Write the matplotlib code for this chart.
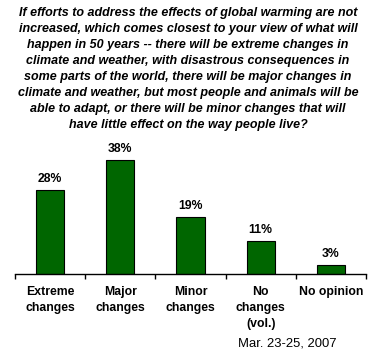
import matplotlib.pyplot as plt

categories = ["Extreme\nchanges", "Major\nchanges", "Minor\nchanges", "No\nchanges\n(vol.)", "No opinion"]
values = [28, 38, 19, 11, 3]
value_labels = ["28%", "38%", "19%", "11%", "3%"]

title = ("If efforts to address the effects of global warming are not\n"
         "increased, which comes closest to your view of what will\n"
         "happen in 50 years -- there will be extreme changes in\n"
         "climate and weather, with disastrous consequences in\n"
         "some parts of the world, there will be major changes in\n"
         "climate and weather, but most people and animals will be\n"
         "able to adapt, or there will be minor changes that will\n"
         "have little effect on the way people live?")
date_note = "Mar. 23-25, 2007"

plt.rcParams['font.family'] = ['Liberation Sans', 'DejaVu Sans']

W, H = 381, 359
fig = plt.figure(figsize=(W / 100, H / 100), dpi=100)
ax = fig.add_axes([15 / W, (H - 274) / H, 351 / W, 135 / H])

x = list(range(len(values)))
ax.bar(x, values, width=0.4, color="#006600", edgecolor="black", linewidth=0.8, zorder=2)
for xi, v, lab in zip(x, values, value_labels):
    ax.text(xi, v + 1.6, lab, ha="center", va="bottom", fontsize=8.8, fontweight="bold")

ax.set_xlim(-0.5, len(values) - 0.5)
ax.set_ylim(0, 45)
for s in ["top", "left", "right"]:
    ax.spines[s].set_visible(False)
ax.spines["bottom"].set_linewidth(1)
ax.set_yticks([])
ax.set_xticks([i - 0.5 for i in range(len(values) + 1)])
ax.set_xticklabels([])
ax.tick_params(axis="x", direction="out", length=3.5, width=1)

for xi, c in zip(x, categories):
    ax.text(xi, -4.0, c, ha="center", va="top", fontsize=8.8, fontweight="bold",
            linespacing=1.45)

fig.text(287 / W, 1 - 343 / H, date_note, ha="center", va="center", fontsize=9.4)
fig.text(188 / W, 1 - 7 / H, title, ha="center", va="top", fontsize=9.0,
         fontweight="bold", fontstyle="italic", linespacing=1.45)

fig.savefig("out.png", dpi=100)
